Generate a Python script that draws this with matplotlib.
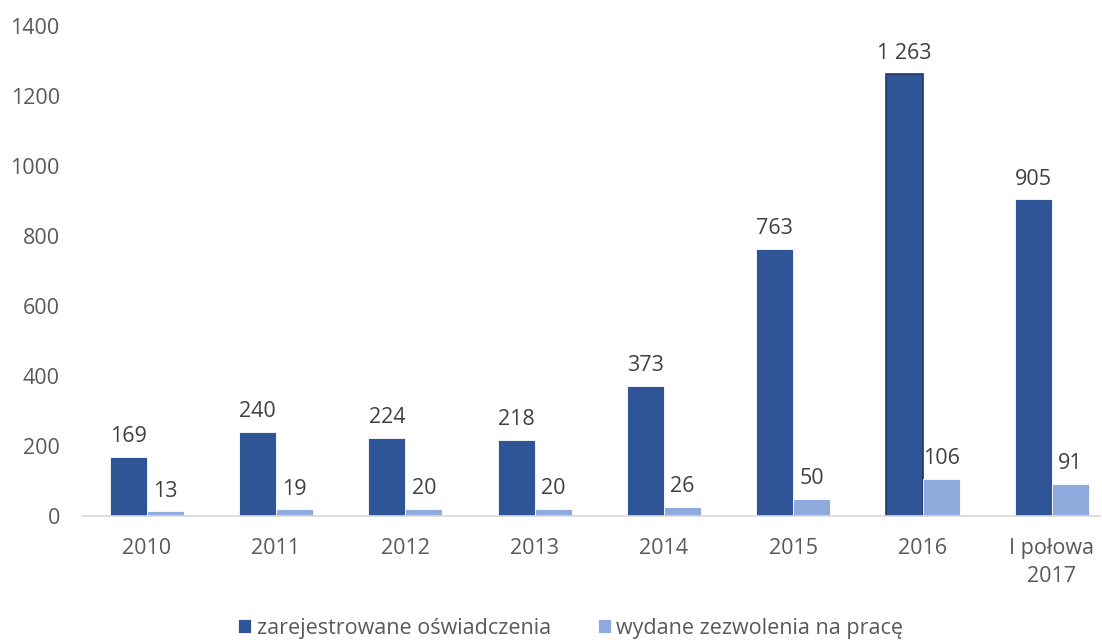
import numpy as np
import matplotlib

matplotlib.use("Agg")
import matplotlib.pyplot as plt

categories = ["2010", "2011", "2012", "2013", "2014", "2015", "2016", "I połowa\n2017"]
oswiadczenia = [169, 240, 224, 218, 373, 763, 1263, 905]
zezwolenia = [13, 19, 20, 20, 26, 50, 106, 91]
series_names = ["zarejestrowane oświadczenia", "wydane zezwolenia na pracę"]

dark = "#2F5597"
light = "#8FAADC"
text_gray = "#595959"
label_gray = "#404040"
fs = 15.5

plt.rcParams["font.family"] = ["Open Sans", "DejaVu Sans"]


def fmt(v):
    return f"{v:,}".replace(",", " ")


def main():
    fig = plt.figure(figsize=(11.02, 6.41), dpi=100)
    ax = fig.add_axes([0.0744, 0.195, 0.9236, 0.764])

    x = np.arange(len(categories))
    w = 0.286
    b1 = ax.bar(x - w / 2, oswiadczenia, w, color=dark, edgecolor="white",
                linewidth=0.6, label=series_names[0])
    b2 = ax.bar(x + w / 2, zezwolenia, w, color=light, edgecolor="white",
                linewidth=0.6, label=series_names[1])
    # highlighted 2016 bar outline
    b1[6].set_edgecolor("#1F3864")
    b1[6].set_linewidth(1.2)

    for bars, vals in ((b1, oswiadczenia), (b2, zezwolenia)):
        for bar, v in zip(bars, vals):
            ax.annotate(fmt(v), (bar.get_x() + bar.get_width() / 2, v),
                        xytext=(0, 7), textcoords="offset points",
                        ha="center", va="bottom", fontsize=fs, color=label_gray)

    ax.set_xlim(-0.5, 7.37)
    ax.set_ylim(0, 1400)
    ax.set_yticks(range(0, 1401, 200))
    ax.set_xticks(x)
    ax.set_xticklabels(categories, linespacing=1.45)
    ax.tick_params(axis="both", length=0, labelsize=fs, colors=text_gray)
    ax.tick_params(axis="x", pad=16)
    ax.tick_params(axis="y", pad=16)

    for side in ("top", "right", "left"):
        ax.spines[side].set_visible(False)
    ax.spines["bottom"].set_color("#D9D9D9")
    ax.spines["bottom"].set_linewidth(1.2)

    fig.legend(loc="center", bbox_to_anchor=(0.518, 0.02), ncol=2, frameon=False,
               fontsize=fs, labelcolor=text_gray, handlelength=0.6,
               handleheight=0.6, handletextpad=0.25, columnspacing=2.2)

    fig.savefig("out.png", dpi=100)


if __name__ == "__main__":
    main()
